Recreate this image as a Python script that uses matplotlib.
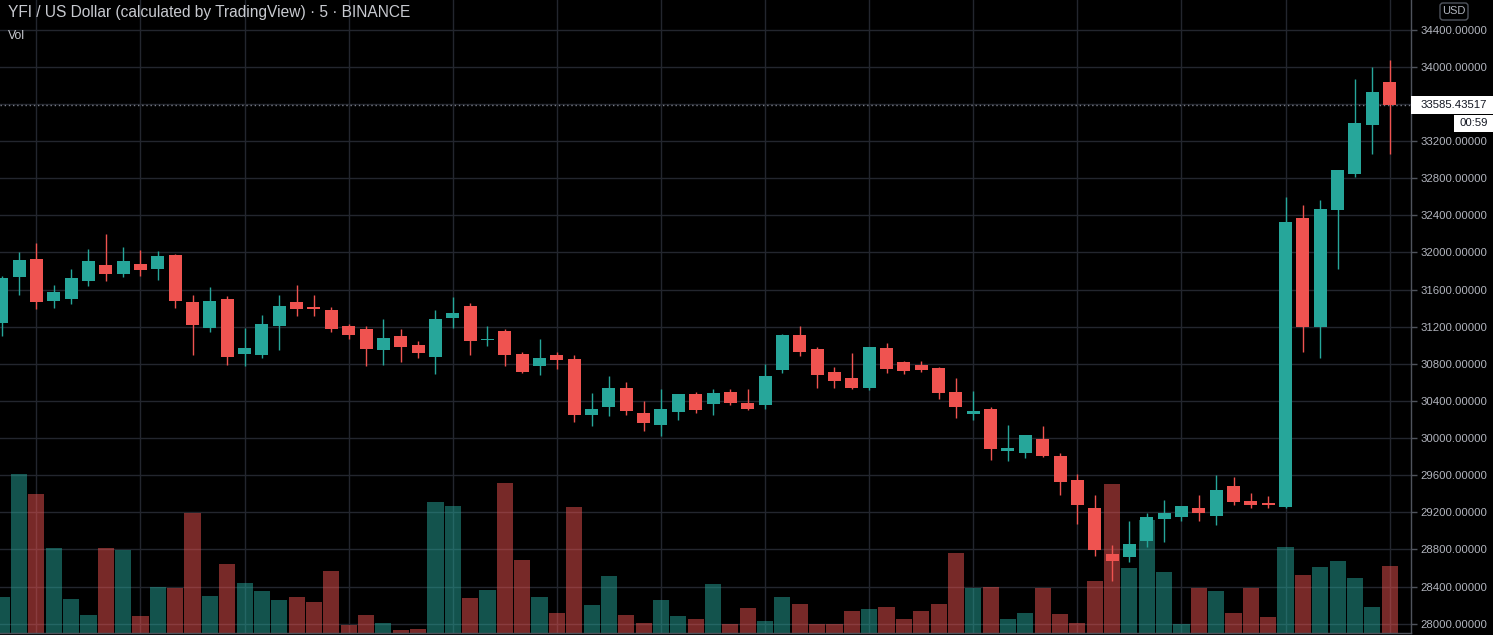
import matplotlib
matplotlib.use("Agg")
import matplotlib.pyplot as plt
from matplotlib.patches import Rectangle, FancyBboxPatch
from matplotlib.lines import Line2D
from matplotlib.transforms import IdentityTransform

W, H, DPI = 1493, 635, 100

# ---------------- data (5-minute candles, YFI/USD) ----------------
opens = [31242, 31738, 31929, 31479, 31501, 31695, 31864, 31770, 31875, 31824,
         31972, 31465, 31189, 31498, 30908, 30898, 31210, 31465, 31412, 31379,
         31207, 31175, 30952, 31099, 31002, 30876, 31296, 31422, 31059, 31153,
         30905, 30779, 30894, 30851, 30251, 30338, 30539, 30270, 30144, 30284,
         30474, 30370, 30496, 30377, 30359, 30736, 31110, 30959, 30711, 30647,
         30542, 30970, 30819, 30787, 30754, 30496, 30262, 30313, 29864, 29842,
         29990, 29807, 29548, 29246, 28751, 28722, 28894, 29131, 29153, 29246,
         29163, 29483, 29322, 29300, 29260, 32370, 31199, 32460, 32847, 33375,
         33835]
highs = [31745, 32004, 32101, 31649, 31821, 32036, 32198, 32058, 32026, 32015,
         31982, 31541, 31627, 31530, 31185, 31325, 31541, 31649, 31541, 31412,
         31228, 31207, 31282, 31175, 31045, 31379, 31519, 31455, 31207, 31175,
         30927, 31067, 30927, 30894, 30485, 30668, 30604, 30399, 30528, 30474,
         30496, 30528, 30528, 30528, 30798, 31121, 31207, 30981, 30765, 30916,
         30981, 31024, 30830, 30830, 30765, 30647, 30507, 30334, 30140, 30033,
         30130, 29839, 29613, 29386, 28848, 29106, 29193, 29333, 29268, 29386,
         29602, 29580, 29408, 29376, 32596, 32510, 32564, 32887, 33868, 33997,
         34072]
lows = [31102, 31544, 31390, 31404, 31447, 31641, 31695, 31738, 31749, 31706,
        31404, 30898, 31145, 30790, 30779, 30865, 30952, 31318, 31318, 31145,
        31070, 30779, 30790, 30822, 30865, 30693, 31189, 30898, 30995, 30779,
        30704, 30682, 30747, 30176, 30133, 30241, 30251, 30079, 30025, 30198,
        30273, 30251, 30359, 30305, 30316, 30704, 30887, 30542, 30542, 30531,
        30521, 30704, 30693, 30715, 30424, 30219, 30198, 29767, 29756, 29788,
        29799, 29390, 29077, 28733, 28463, 28668, 28829, 28883, 29110, 29110,
        29066, 29282, 29250, 29250, 29250, 30930, 30865, 31824, 32815, 33063,
        33063]
closes = [31724, 31918, 31469, 31573, 31724, 31907, 31770, 31907, 31813, 31961,
          31479, 31221, 31476, 30876, 30970, 31228, 31422, 31393, 31393, 31178,
          31113, 30962, 31078, 30984, 30919, 31282, 31347, 31049, 31067, 30898,
          30715, 30862, 30844, 30251, 30313, 30539, 30294, 30165, 30313, 30474,
          30305, 30485, 30381, 30316, 30668, 31110, 30930, 30682, 30618, 30542,
          30981, 30747, 30725, 30736, 30488, 30338, 30291, 29885, 29893, 30033,
          29810, 29530, 29282, 28797, 28679, 28859, 29149, 29193, 29268, 29196,
          29440, 29314, 29282, 29282, 32327, 31199, 32467, 32887, 33394, 33728,
          33585.43517]
volumes = [36.3, 159.3, 139.3, 85.3, 34.3, 18.3, 85.3, 83.3, 17.3, 46.3,
           44.6, 120.3, 37.3, 69.3, 50.3, 42.3, 33.3, 36.3, 31.3, 62.3,
           8.3, 18.3, 10.3, 3.3, 4.3, 131.3, 127.3, 35.3, 43.3, 150.3,
           73.3, 36.3, 20.3, 126.3, 28.3, 57.3, 18.3, 10.3, 33.3, 17.3,
           14.3, 49.3, 9.3, 25.3, 12.3, 36.3, 29.3, 9.3, 9.3, 22.3,
           24.3, 26.3, 14.3, 22.3, 29.3, 80.3, 45.3, 46.3, 14.3, 20.3,
           45.3, 19.3, 10.3, 52.3, 149.3, 65.3, 113.3, 61.3, 9.3, 44.6,
           42.3, 20.3, 44.6, 16.3, 86.3, 58.3, 66.3, 72.3, 55.3, 26.3,
           67.3]
price_ticks = [28000, 28400, 28800, 29200, 29600, 30000, 30400, 30800, 31200,
               31600, 32000, 32400, 32800, 33200, 34000, 34400]
grid_prices = [28000 + 400 * k for k in range(17)]
time_grid = list(range(2, 81, 6))
title = "YFI / US Dollar (calculated by TradingView) \u00b7 5 \u00b7 BINANCE"
countdown = "00:59"

# ---------------- style ----------------
UP, DOWN = "#26a69a", "#ef5350"
BG = "#000000"
GRID = "#23262e"
AXIS = "#4f535c"
TXT = "#b2b5be"
FONT = "Liberation Sans"
plt.rcParams["font.family"] = [FONT, "DejaVu Sans"]

fig = plt.figure(figsize=(W / DPI, H / DPI), dpi=DPI, facecolor=BG)
pos = [0, 2 / H, 1411 / W, 633 / H]
ax_vol = fig.add_axes(pos, zorder=0)
ax = fig.add_axes(pos, zorder=1)
ax.patch.set_visible(False)
ax_vol.set_facecolor(BG)

n = len(opens)
xs = list(range(n))
xlim = (-0.098, 81.23)
ylim = (27900, 34718.5)
ax.set_xlim(*xlim)
ax.set_ylim(*ylim)
ax_vol.set_xlim(*xlim)
ax_vol.set_ylim(0, max(volumes) * 633 / 159.3)

colors = [UP if c >= o else DOWN for o, c in zip(opens, closes)]

# grid (under the volume)
for p in grid_prices:
    ax_vol.add_line(Line2D([0, 1], [p, p], transform=ax.get_yaxis_transform(),
                           color=GRID, lw=1, zorder=0))
for t in time_grid:
    ax_vol.axvline(t, color=GRID, lw=1, zorder=0)

# volume
ax_vol.bar(xs, volumes, width=0.93, color=colors, alpha=0.5, linewidth=0, zorder=1)

# candles
px_per_unit = 633 / (ylim[1] - ylim[0])
min_h = 1.2 / px_per_unit
ax.vlines(xs, lows, highs, colors=colors, lw=1.0, zorder=2)
bottoms = [min(o, c) for o, c in zip(opens, closes)]
heights = [max(abs(c - o), min_h) for o, c in zip(opens, closes)]
ax.bar(xs, heights, bottom=bottoms, width=0.75, color=colors, linewidth=0, zorder=3)

# last price dotted line
last = closes[-1]
ax.axhline(last, color="#787b86", lw=1, linestyle=(0, (1, 2)), zorder=1.5)

ax_vol.set_xticks([])
ax_vol.set_yticks([])
for s in ax_vol.spines.values():
    s.set_visible(False)

ax.set_xticks([])
ax.yaxis.tick_right()
ax.set_yticks(price_ticks)
ax.set_yticklabels([f"{p:.5f}" for p in price_ticks])
ax.tick_params(axis="y", colors=AXIS, labelcolor=TXT, length=4, width=1,
               pad=3, labelsize=8.2)
for name, s in ax.spines.items():
    if name in ("right", "bottom"):
        s.set_color(AXIS)
        s.set_linewidth(1)
    else:
        s.set_visible(False)

# price label box
yd = ax.transData.transform((0, last))[1]
fig.add_artist(Rectangle((1411, yd - 9), 82, 18, transform=IdentityTransform(),
                         facecolor="white", edgecolor="none", zorder=5))
fig.text(1420.5 / W, yd / H, f"{last:.5f}", color="#131722", fontsize=8.2,
         va="center", ha="left", zorder=6)
fig.add_artist(Rectangle((1454, yd - 10 - 16.5), 39, 16.5, transform=IdentityTransform(),
                         facecolor="white", edgecolor="none", zorder=5))
fig.text(1488 / W, (yd - 10 - 8.25) / H, countdown, color="#131722", fontsize=8.2,
         va="center", ha="right", zorder=6)

# USD button
fig.add_artist(FancyBboxPatch((1440, H - 20), 28, 17, boxstyle="round,pad=0,rounding_size=3",
                              transform=IdentityTransform(), facecolor="none",
                              edgecolor=AXIS, lw=1, zorder=5))
fig.text(1454 / W, 1 - 11.5 / H, "USD", color=TXT, fontsize=8, ha="center", va="center")

# header texts
fig.text(8 / W, 1 - 12.5 / H, title, color="#c8cad0", fontsize=11.2, ha="left", va="center")
fig.text(8 / W, 1 - 36 / H, "Vol", color="#c8cad0", fontsize=8.8, ha="left", va="center")

fig.savefig("out.png", dpi=DPI, facecolor=BG)
